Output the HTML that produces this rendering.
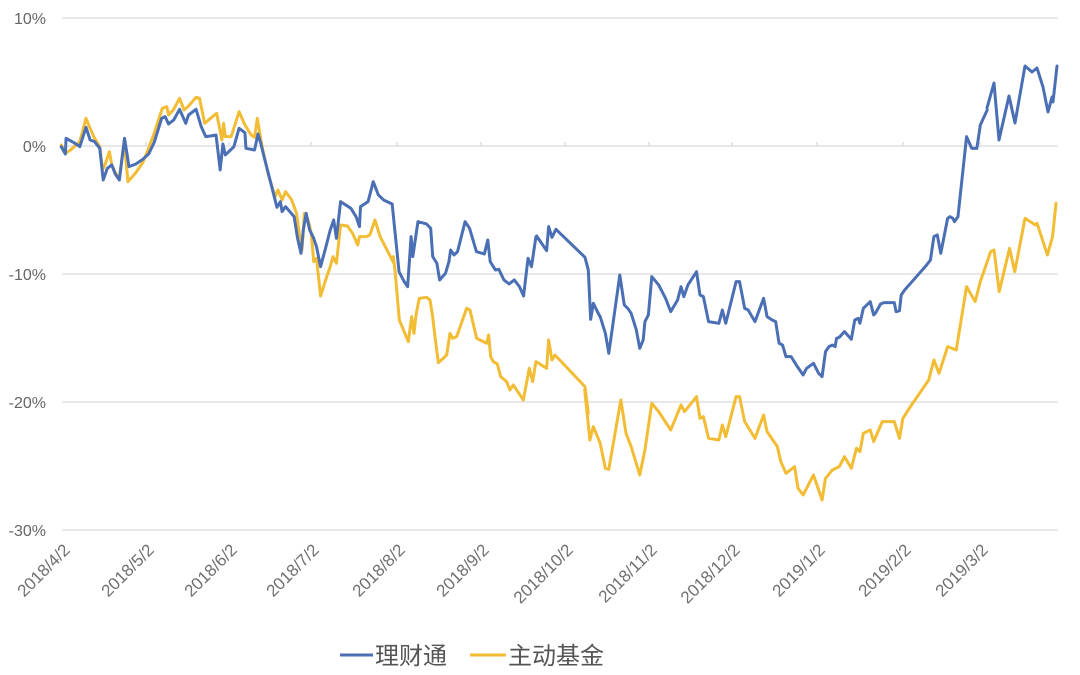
<!DOCTYPE html>
<html><head><meta charset="utf-8"><style>
html,body{margin:0;padding:0;background:#fff;}
svg{display:block;font-family:"Liberation Sans","Noto Sans CJK SC",sans-serif;}
</style></head><body>
<svg width="1080" height="675" viewBox="0 0 1080 675" xmlns="http://www.w3.org/2000/svg">
<g stroke="#d9d9d9" stroke-width="1.3">
<line x1="62" y1="18" x2="1058" y2="18"/>
<line x1="62" y1="146" x2="1058" y2="146"/>
<line x1="62" y1="274" x2="1058" y2="274"/>
<line x1="62" y1="402" x2="1058" y2="402"/>
<line x1="62" y1="530" x2="1058" y2="530"/>
<path d="M146 146v-4M229 146v-4M311 146v-4M397 146v-4M481 146v-4M565 146v-4M649 146v-4M732 146v-4M817 146v-4M903 146v-4M980 146v-4"/>
</g>
<g fill="#666" font-size="16" text-anchor="end">
<text x="46" y="24">10%</text>
<text x="46" y="152">0%</text>
<text x="46" y="280">-10%</text>
<text x="46" y="408">-20%</text>
<text x="46" y="536">-30%</text>
</g>
<g fill="#707070" font-size="17" text-anchor="end">
<text transform="translate(71,551) rotate(-45)">2018/4/2</text>
<text transform="translate(155,551) rotate(-45)">2018/5/2</text>
<text transform="translate(238,551) rotate(-45)">2018/6/2</text>
<text transform="translate(320,551) rotate(-45)">2018/7/2</text>
<text transform="translate(406,551) rotate(-45)">2018/8/2</text>
<text transform="translate(490,551) rotate(-45)">2018/9/2</text>
<text transform="translate(574,551) rotate(-45)">2018/10/2</text>
<text transform="translate(658,551) rotate(-45)">2018/11/2</text>
<text transform="translate(741,551) rotate(-45)">2018/12/2</text>
<text transform="translate(826,551) rotate(-45)">2019/1/2</text>
<text transform="translate(912,551) rotate(-45)">2019/2/2</text>
<text transform="translate(989,551) rotate(-45)">2019/3/2</text>
</g>
<g fill="none" stroke-width="3" stroke-linejoin="round" stroke-linecap="round">
<g stroke="#f2bd35">
<polyline transform="scale(0.344,0.3333)" vector-effect="non-scaling-stroke" points="178,435 190,460 205,450 232,425 250,355 262,385 275,415 290,440 298,510 305,495 318,455 325,495 335,518 347,535 358,445 362,435 372,545 395,518 415,488 432,445 448,400 472,325 485,320 490,345 505,328 522,295 535,330 548,318 570,292 580,295 595,370 612,355 630,340 645,420 650,370 655,410 672,410 695,335 712,375 730,405 740,412 748,355 760,430 780,525 800,590 808,570 820,600 830,575 848,600 862,640 870,700 878,750 885,640 895,658 905,700 912,785 920,775 932,888 945,845 960,800 968,770 978,790 990,675 1010,678 1025,700 1040,735 1045,710 1065,710 1075,705 1090,660 1105,710 1130,760 1145,790"/>
<polyline transform="translate(260,160) scale(0.3333)" vector-effect="non-scaling-stroke" points="400,290 405,330 418,480 445,545 455,470 462,520 468,465 478,415 500,412 510,420 518,470 525,530 535,608 550,595 560,585 570,520 578,535 590,530 620,445 630,450 650,535 670,545 680,550 686,525 692,590 700,605 712,612 722,650 740,665 750,690 760,675 790,720 808,625 818,665 828,605 860,625 866,540 876,600 885,585 975,680 985,760"/>
<polyline transform="translate(540,100) scale(0.344,0.3333)" vector-effect="non-scaling-stroke" points="130,870 145,1020 155,980 175,1030 190,1105 200,1108 235,900 250,1000 265,1040 290,1125 305,1050 325,910 345,935 380,990 410,915 420,935 455,890 465,955 475,950 490,1015 520,1020 530,975 540,1010 570,890 580,890 595,965 625,1015 650,945 660,995 690,1040 700,1085 715,1120 740,1100 750,1165 765,1185 795,1125 820,1200 830,1135 850,1110 870,1100 885,1070 905,1105 920,1045 930,1055 940,1000 960,990 970,1025 995,965 1030,965 1045,1015 1055,955 1080,915 1130,840 1145,780 1160,820 1185,740 1210,750 1240,560 1265,605 1280,545 1310,455 1320,450 1335,575 1365,445 1380,515 1410,355 1440,375 1445,370 1475,465 1490,410 1500,310"/>
</g>
<g stroke="#4a6fb5">
<polyline transform="scale(0.344,0.3333)" vector-effect="non-scaling-stroke" points="178,440 190,462 192,415 215,428 232,440 250,382 262,420 275,425 290,445 300,540 312,505 325,495 335,522 347,540 362,415 375,500 395,492 415,478 432,462 448,428 470,355 480,350 490,372 505,360 522,328 540,370 548,345 570,328 585,380 598,410 612,408 628,405 640,510 648,432 655,465 665,455 680,440 695,385 712,398 715,445 740,450 750,402 758,430 770,480 785,540 805,622 815,605 820,635 830,620 855,650 865,715 875,760 882,688 890,640 900,690 912,715 920,740 932,800 945,750 960,690 970,660 978,715 990,605 1020,625 1035,650 1045,680 1048,620 1070,605 1085,545 1100,585 1115,600 1140,612 1160,815 1175,845 1185,860 1195,710 1200,770 1215,665 1240,672 1252,685 1258,770 1270,790 1278,840 1295,820 1305,785 1310,750 1320,765 1330,755 1352,665 1365,685 1385,755 1408,762 1418,720 1425,785 1440,810 1450,808 1465,840 1480,852 1495,840 1510,860 1522,888 1535,775 1545,800 1558,710 1568,720"/>
<polyline transform="translate(260,160) scale(0.3333)" vector-effect="non-scaling-stroke" points="830,228 860,272 866,200 876,232 888,208 975,292 985,330 992,478 1000,430 1020,470"/>
<polyline transform="translate(540,100) scale(0.344,0.3333)" vector-effect="non-scaling-stroke" points="175,650 190,700 200,760 215,650 232,525 245,615 255,625 265,640 280,690 290,745 300,720 305,665 315,645 325,530 345,555 365,595 380,635 400,600 410,560 418,590 430,555 455,515 465,585 475,590 490,665 520,670 530,630 540,670 570,545 580,545 595,625 605,630 625,665 650,595 660,650 675,660 685,665 695,730 705,735 715,770 730,770 745,795 765,825 775,805 795,790 810,820 820,830 830,755 840,740 850,735 858,740 862,715 870,712 885,695 905,718 915,660 925,655 930,670 940,625 960,605 970,645 975,640 990,612 1000,608 1030,608 1035,635 1045,632 1050,585 1060,570 1090,535 1120,500 1135,480 1145,410 1155,405 1165,460 1185,355 1192,350 1200,355 1205,365 1215,350 1240,110 1255,145 1270,145 1280,75 1300,30"/>
<polyline points="987,108 994,83 999,140 1009,96 1015,123 1025,66 1032,72 1037,68 1043,87 1048,112 1052,97 1053,102 1057,66"/>
</g>
</g>
<line x1="340" y1="655" x2="373" y2="655" stroke="#4a6fb5" stroke-width="3"/>
<text x="375" y="664" font-size="24" fill="#555">理财通</text>
<line x1="470" y1="655" x2="506" y2="655" stroke="#f2bd35" stroke-width="3"/>
<text x="508" y="664" font-size="24" fill="#555">主动基金</text>
</svg>
</body></html>
